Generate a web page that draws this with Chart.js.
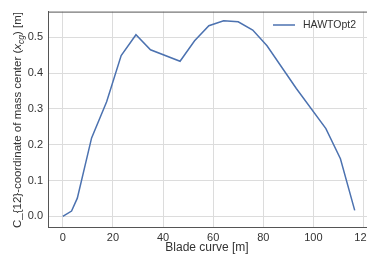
<!DOCTYPE html>
<html>
<head>
<meta charset="utf-8">
<script src="https://cdn.jsdelivr.net/npm/chart.js@4"></script>
<style>
  html, body { margin: 0; padding: 0; background: #fff; overflow: hidden; }
  #wrap { position: relative; width: 380px; height: 258px; }
</style>
</head>
<body>
<div id="wrap"><canvas id="chart" width="380" height="258"></canvas></div>
<script>
// blade curve positions [m] and x_cg values [m]
const bladeCurve = [0, 3.5, 5.8, 11.5, 17.5, 23.3, 29.2, 35.0, 46.8, 52.6, 58.3, 64.2, 70.0, 75.8, 81.5, 93.2, 105.0, 110.8, 116.5];
const xcgValues  = [0, 0.015, 0.051, 0.219, 0.32, 0.449, 0.507, 0.465, 0.433, 0.49, 0.532, 0.546, 0.543, 0.52, 0.476, 0.357, 0.245, 0.161, 0.017];
const seriesName = "HAWTOpt2";
const xTitle = "Blade curve [m]";

const FONT = "'Liberation Sans', Arial, sans-serif";
const TEXT = "#333333";
const SPINE = "#555555";
const GRID = "#dcdcdc";
const BLUE = "#4c72b0";

// top spine + axis titles (y one with subscript) + legend
const extras = {
  id: "extras",
  afterDraw(chart) {
    const ctx = chart.ctx;
    const a = chart.chartArea;
    ctx.save();
    ctx.strokeStyle = SPINE;
    ctx.lineWidth = 1;
    ctx.beginPath();
    ctx.moveTo(a.left, a.top + 0.5);
    ctx.lineTo(a.right, a.top + 0.5);
    ctx.stroke();

    // x title
    ctx.fillStyle = TEXT;
    ctx.font = "12px " + FONT;
    ctx.textAlign = "center";
    ctx.textBaseline = "middle";
    ctx.fillText(xTitle, 207, 248);
    ctx.restore();

    // y title
    ctx.save();
    ctx.translate(21, 120);
    ctx.rotate(-Math.PI / 2);
    ctx.fillStyle = TEXT;
    ctx.textBaseline = "alphabetic";
    const parts = [
      { t: "C_{12}-coordinate of mass center (", f: "11.5px " + FONT, dy: 0 },
      { t: "x", f: "italic 11.5px " + FONT, dy: 0 },
      { t: "cg", f: "italic 8.5px " + FONT, dy: 2.5 },
      { t: ") [m]", f: "11.5px " + FONT, dy: 0 }
    ];
    let total = 0;
    parts.forEach(p => { ctx.font = p.f; total += ctx.measureText(p.t).width; });
    let x = -total / 2;
    parts.forEach(p => {
      ctx.font = p.f;
      ctx.fillText(p.t, x, 0 + p.dy);
      x += ctx.measureText(p.t).width;
    });
    ctx.restore();

    // legend
    ctx.save();
    ctx.strokeStyle = BLUE;
    ctx.lineWidth = 1.5;
    ctx.beginPath();
    ctx.moveTo(273, 25);
    ctx.lineTo(295, 25);
    ctx.stroke();
    ctx.fillStyle = TEXT;
    ctx.font = "10.5px " + FONT;
    ctx.textBaseline = "middle";
    ctx.fillText(seriesName, 303, 25.5);
    ctx.restore();
  }
};

const points = bladeCurve.map((v, i) => ({ x: v, y: xcgValues[i] }));

new Chart(document.getElementById("chart"), {
  type: "scatter",
  data: {
    datasets: [{
      label: seriesName,
      data: points,
      showLine: true,
      borderColor: BLUE,
      borderWidth: 1.5,
      pointRadius: 0,
      tension: 0,
      fill: false
    }]
  },
  options: {
    responsive: false,
    animation: false,
    layout: { padding: { top: 11, right: 8, left: 0, bottom: 0 } },
    plugins: { legend: { display: false }, tooltip: { enabled: false } },
    scales: {
      x: {
        type: "linear",
        min: -5.9,
        max: 123.4,
        afterFit(scale) { scale.height = 31; },
        grid: { color: GRID, drawTicks: false },
        border: { color: SPINE, width: 1 },
        ticks: {
          stepSize: 20,
          includeBounds: false,
          padding: 4,
          color: TEXT,
          font: { family: FONT, size: 11 },
          maxRotation: 0
        }
      },
      y: {
        min: -0.0295,
        max: 0.5715,
        afterFit(scale) { scale.width = 48; },
        grid: { color: GRID, drawTicks: false },
        border: { color: SPINE, width: 1 },
        ticks: {
          stepSize: 0.1,
          includeBounds: false,
          padding: 5,
          color: TEXT,
          font: { family: FONT, size: 11 },
          callback: v => v.toFixed(1)
        }
      }
    }
  },
  plugins: [extras]
});
</script>
</body>
</html>
